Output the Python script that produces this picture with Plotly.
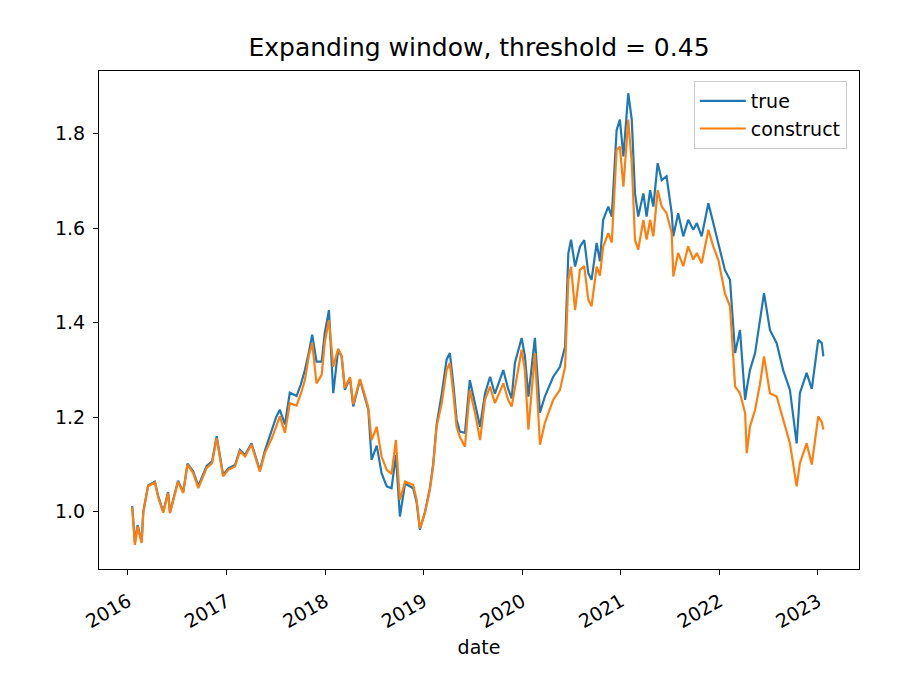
import plotly.graph_objects as go

# Daten (Wendepunkte der Kurven)
dates = [
    "2016-01-17", "2016-01-27", "2016-02-06", "2016-02-21", "2016-02-27", "2016-03-16",
    "2016-04-10", "2016-04-22", "2016-05-11", "2016-05-29", "2016-06-05", "2016-07-05",
    "2016-07-24", "2016-08-09", "2016-08-30", "2016-09-18", "2016-10-19", "2016-11-08",
    "2016-11-25", "2016-12-03", "2016-12-19", "2017-01-07", "2017-02-01", "2017-02-19",
    "2017-03-10", "2017-04-03", "2017-04-22", "2017-05-04", "2017-05-23", "2017-06-17",
    "2017-07-03", "2017-07-17", "2017-08-05", "2017-08-23", "2017-09-17", "2017-10-03",
    "2017-10-18", "2017-11-02", "2017-11-14", "2017-11-30", "2017-12-19", "2017-12-31",
    "2018-01-15", "2018-01-31", "2018-02-18", "2018-03-03", "2018-03-15", "2018-04-03",
    "2018-04-15", "2018-05-10", "2018-05-28", "2018-06-10", "2018-06-22", "2018-07-11",
    "2018-07-29", "2018-08-17", "2018-09-04", "2018-09-20", "2018-10-05", "2018-10-24",
    "2018-11-23", "2018-12-06", "2018-12-18", "2019-01-06", "2019-01-24", "2019-02-05",
    "2019-02-18", "2019-03-09", "2019-03-27", "2019-04-08", "2019-04-21", "2019-05-03",
    "2019-05-15", "2019-06-03", "2019-06-21", "2019-07-10", "2019-07-29", "2019-08-16",
    "2019-09-04", "2019-09-22", "2019-10-23", "2019-11-10", "2019-11-23", "2019-12-05",
    "2019-12-30", "2020-01-11", "2020-01-24", "2020-02-17", "2020-03-07", "2020-03-25",
    "2020-04-25", "2020-05-20", "2020-06-08", "2020-06-20", "2020-06-30", "2020-07-15",
    "2020-08-02", "2020-08-18", "2020-09-02", "2020-09-14", "2020-10-03", "2020-10-15",
    "2020-10-27", "2020-11-15", "2020-11-28", "2020-12-16", "2020-12-28", "2021-01-10",
    "2021-01-28", "2021-02-10", "2021-02-22", "2021-03-06", "2021-03-25", "2021-04-06",
    "2021-04-19", "2021-05-01", "2021-05-17", "2021-06-01", "2021-06-19", "2021-07-08",
    "2021-07-14", "2021-08-01", "2021-08-20", "2021-09-07", "2021-09-26", "2021-10-09",
    "2021-10-27", "2021-11-21", "2021-12-09", "2021-12-28", "2022-01-21", "2022-02-09",
    "2022-02-21", "2022-02-28", "2022-03-18", "2022-04-06", "2022-04-12", "2022-04-24",
    "2022-05-13", "2022-05-31", "2022-06-15", "2022-07-07", "2022-08-01", "2022-08-25",
    "2022-09-19", "2022-10-14", "2022-10-26", "2022-11-20", "2022-12-09", "2023-01-02",
    "2023-01-15", "2023-01-21",
]

true_vals = [
    1.012, 0.935, 0.972, 0.936, 1.000, 1.056,
    1.064, 1.034, 1.000, 1.042, 0.999, 1.066,
    1.042, 1.102, 1.086, 1.055, 1.097, 1.107,
    1.160, 1.134, 1.078, 1.092, 1.099, 1.131,
    1.120, 1.145, 1.113, 1.088, 1.130, 1.170,
    1.200, 1.216, 1.185, 1.252, 1.245, 1.270,
    1.300, 1.339, 1.375, 1.318, 1.318, 1.380,
    1.427, 1.251, 1.343, 1.329, 1.258, 1.283,
    1.223, 1.279, 1.244, 1.216, 1.110, 1.140,
    1.082, 1.054, 1.050, 1.120, 0.990, 1.060,
    1.050, 1.020, 0.962, 1.000, 1.050, 1.100,
    1.185, 1.250, 1.322, 1.336, 1.270, 1.195,
    1.170, 1.167, 1.279, 1.230, 1.180, 1.250,
    1.286, 1.250, 1.300, 1.260, 1.240, 1.315,
    1.368, 1.330, 1.244, 1.368, 1.210, 1.244,
    1.286, 1.307, 1.350, 1.547, 1.576, 1.519,
    1.561, 1.575, 1.505, 1.491, 1.569, 1.530,
    1.618, 1.646, 1.625, 1.808, 1.830, 1.752,
    1.886, 1.830, 1.674, 1.625, 1.674, 1.625,
    1.681, 1.646, 1.738, 1.702, 1.710, 1.632,
    1.583, 1.632, 1.583, 1.618, 1.597, 1.611,
    1.583, 1.653, 1.611, 1.569, 1.512, 1.491,
    1.392, 1.336, 1.385, 1.237, 1.260, 1.300,
    1.336, 1.400, 1.463, 1.385, 1.357, 1.300,
    1.258, 1.145, 1.251, 1.294, 1.260, 1.364,
    1.357, 1.329,
]

construct_vals = [
    1.010, 0.930, 0.969, 0.934, 0.998, 1.054,
    1.062, 1.032, 0.998, 1.040, 0.997, 1.064,
    1.040, 1.100, 1.082, 1.050, 1.093, 1.103,
    1.156, 1.131, 1.075, 1.089, 1.096, 1.128,
    1.117, 1.142, 1.110, 1.085, 1.125, 1.155,
    1.180, 1.202, 1.167, 1.230, 1.225, 1.250,
    1.279, 1.332, 1.357, 1.272, 1.290, 1.360,
    1.406, 1.307, 1.345, 1.330, 1.262, 1.285,
    1.228, 1.281, 1.247, 1.220, 1.152, 1.180,
    1.117, 1.089, 1.080, 1.152, 1.025, 1.064,
    1.057, 1.025, 0.965, 0.998, 1.047, 1.096,
    1.180, 1.230, 1.300, 1.315, 1.250, 1.180,
    1.159, 1.138, 1.258, 1.210, 1.152, 1.237,
    1.265, 1.230, 1.272, 1.237, 1.223, 1.265,
    1.343, 1.300, 1.174, 1.336, 1.142, 1.188,
    1.237, 1.258, 1.307, 1.491, 1.519, 1.427,
    1.512, 1.520, 1.449, 1.435, 1.519, 1.500,
    1.561, 1.590, 1.570, 1.766, 1.773, 1.688,
    1.830, 1.739, 1.576, 1.555, 1.618, 1.576,
    1.618, 1.583, 1.681, 1.646, 1.632, 1.590,
    1.498, 1.548, 1.520, 1.562, 1.534, 1.548,
    1.526, 1.597, 1.562, 1.533, 1.463, 1.435,
    1.329, 1.265, 1.251, 1.209, 1.124, 1.180,
    1.216, 1.270, 1.329, 1.251, 1.244, 1.195,
    1.145, 1.054, 1.103, 1.145, 1.100, 1.202,
    1.190, 1.174,
]

yticks = [1.0, 1.2, 1.4, 1.6, 1.8]

fig = go.Figure()

fig.add_trace(go.Scatter(
    x=dates, y=true_vals, mode="lines", name="true",
    line=dict(color="#1f77b4", width=2.2),
))
fig.add_trace(go.Scatter(
    x=dates, y=construct_vals, mode="lines", name="construct",
    line=dict(color="#ff7f0e", width=2.2),
))

achse = dict(
    showline=True, linecolor="black", linewidth=1.2, mirror=True,
    ticks="outside", ticklen=5, tickcolor="black", tickwidth=1.2,
    showgrid=False, zeroline=False,
    tickfont=dict(size=19, color="black"),
)

# Seite hat 8px Rand, daher Ränder etwas verschoben
fig.update_layout(
    width=913, height=677,
    template="simple_white",
    font=dict(family="DejaVu Sans", color="black", size=19),
    margin=dict(l=91, r=62, t=63, b=116, autoexpand=False),
    title=dict(text="Expanding window, threshold = 0.45", xref="paper", x=0.5,
               xanchor="center", y=0.942, yanchor="middle",
               font=dict(size=25, color="black")),
    xaxis=dict(achse, type="date", range=["2015-09-16", "2023-06-02"],
               dtick="M12", tick0="2016-01-01", tickformat="%Y", tickangle=-30,
               ticklabelstandoff=8,
               title=dict(text="date", font=dict(size=19), standoff=9)),
    yaxis=dict(achse, range=[0.879, 1.933], tickvals=yticks, tickformat=".1f",
               ticklabelstandoff=4),
    legend=dict(x=0.984, y=0.98, xanchor="right", yanchor="top",
                bgcolor="rgba(255,255,255,0.8)", bordercolor="#cccccc", borderwidth=1,
                itemwidth=46, font=dict(size=19)),
    showlegend=True,
    plot_bgcolor="white", paper_bgcolor="white",
)

fig.write_html("out.html")
